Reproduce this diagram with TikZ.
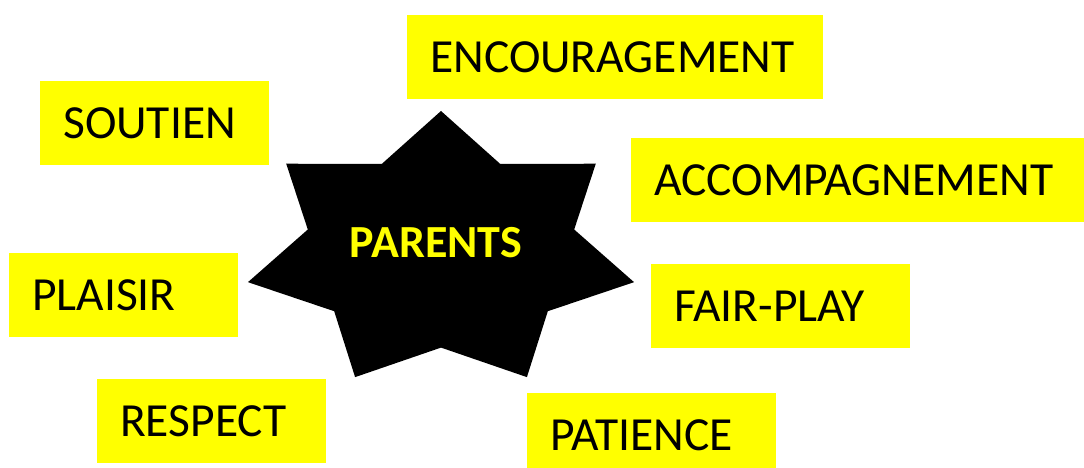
\documentclass[tikz,border=0pt]{standalone}
\usepackage{fontspec}
\setmainfont{Carlito}
\definecolor{jaune}{RGB}{255,255,0}

\begin{document}
\begin{tikzpicture}[x=1pt,y=-1pt,
    word/.style={fill=jaune, anchor=north west, minimum height=84pt,
      inner xsep=23pt, inner ysep=0pt, align=left, text width=#1,
      font=\fontsize{47.5}{50}\selectfont}]
    \useasboundingbox (0,0) rectangle (1084,468);
    %% Draw the star
    \begin{scope}[shift={(441,251)}, xscale=198, yscale=-140]
      \fill[black] (90:1) \foreach \k in {0,...,6} {
        -- (90+\k*360/7+180/7:0.69) -- (90+\k*360/7+360/7:1)} -- cycle;
    \end{scope}
    \node (parents) at (436,243) [text=jaune, font=\bfseries\fontsize{46}{50}\selectfont] {PARENTS};
    %% Draw the words
    \node[word=370pt] (encouragement) at (407,15) {ENCOURAGEMENT};
    \node[word=183pt] (soutien) at (40,81) {SOUTIEN};
    \node[word=407pt] (accompagnement) at (631,138) {ACCOMPAGNEMENT};
    \node[word=183pt] (plaisir) at (9,253) {PLAISIR};
    \node[word=213pt] (fairplay) at (651,264) {FAIR-PLAY};
    \node[word=183pt] (respect) at (97,379) {RESPECT};
    \node[word=203pt] (patience) at (527,393) {PATIENCE};
  \end{tikzpicture}
\end{document}
